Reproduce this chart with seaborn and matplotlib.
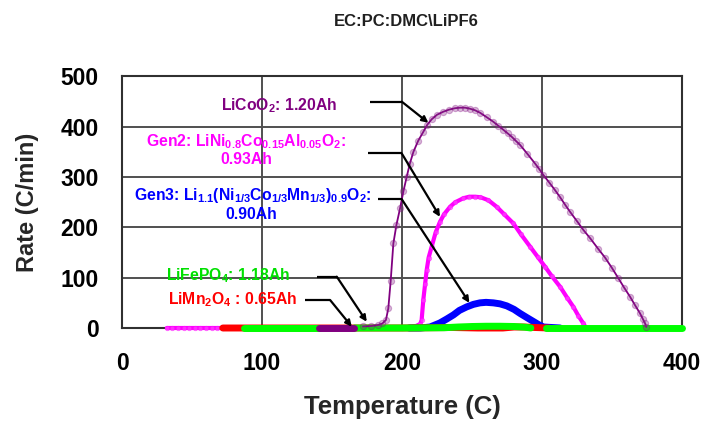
import numpy as np
import pandas as pd
import matplotlib
matplotlib.use("Agg")
import matplotlib.pyplot as plt
import seaborn as sns
from matplotlib.ticker import MultipleLocator

sns.set_style("white")
plt.rcParams['font.family'] = ['Liberation Sans', 'DejaVu Sans']
plt.rcParams['mathtext.fontset'] = 'custom'
plt.rcParams['mathtext.rm'] = 'Liberation Sans:bold'
plt.rcParams['mathtext.it'] = 'Liberation Sans:bold'
plt.rcParams['mathtext.bf'] = 'Liberation Sans:bold'

# ---------------- data ----------------
lco_x = [172, 178, 183, 186, 188.5, 190.2, 191.9, 193.8, 196, 198.6, 201, 203.3, 205.6, 208.1,
         211.5, 215.2, 218, 221.2, 225, 229.5, 233.5, 237.9, 241.5, 245, 248.5, 252, 255.7,
         260.5, 265.2, 268.8, 272.4, 275.4, 278.4, 281.3, 284.3, 289.6, 295, 298, 301, 305.2,
         309.3, 312.9, 316.5, 320, 324.8, 329.5, 334.5, 340.2, 345, 349.8, 354.5, 358.7, 362.9,
         366.5, 370, 372, 373.6, 374.5]
lco_y = [3, 4, 6, 9, 16, 39, 94, 168, 205, 238, 272, 300, 327, 350,
         372, 390, 404, 415, 424, 430, 434, 437, 438, 438, 436, 433, 428,
         419, 410, 402, 394, 387, 380, 372, 364, 346, 327, 316, 304, 289,
         274, 260, 245, 231, 213, 195, 178, 157, 140, 120, 99, 80, 62,
         45, 29, 18, 9, 2]
lco_base_x = [141, 166]
lco_base_y = [0, 0]

gen2_x = [32, 36, 40, 44, 48, 52, 56, 60, 64, 68, 72, 100, 150, 200, 205, 210, 213, 214,
          215.2, 216.5, 217.6, 219, 221.2, 224, 227.1, 230, 234.3, 238, 243.8, 248, 252.1,
          256, 261.7, 267.6, 273, 279.5, 285, 291.4, 297, 302.1, 307, 312.9, 318, 322.4,
          326, 329.5, 331]
gen2_y = [0, 0, 0, 0, 0, 0, 0, 0, 0, 0, 0, 0, 0, 0, 2, 4, 8, 16,
          56, 88, 115, 140, 162, 190, 211, 226, 241, 250, 258, 261, 261,
          260, 254, 241, 226, 208, 186, 162, 141, 122, 103, 82, 60, 42,
          24, 9, 2]

gen3_x = [205, 213, 220, 227, 232, 236.7, 241, 246.2, 251, 255.7, 260, 265.2, 270, 274.8,
          280, 284.3, 289, 293.8, 297.4, 301, 313]
gen3_y = [0, 0, 2, 10, 18, 26, 35, 42, 47, 50, 51, 50, 48, 44,
          37, 29, 21, 13, 7, 2, 0]

lfp_x = [87, 141, 166, 200, 230, 240, 250, 260, 270, 280, 288, 292, 303, 400]
lfp_y = [0, 0, 0, 0, 0.5, 2, 3, 3.5, 3.5, 3, 1.5, 0, 0, 0]
lfp_seg = [0, 0, 1, 1, 1, 1, 1, 1, 1, 1, 1, 1, 2, 2]

lmo_x = [72, 87, 150, 200, 236, 254, 272, 280, 287, 295, 305]
lmo_y = [0, 0, 0, 0, 1, 0, 0, 2, 2, 1, 0]

x_ticks = [0, 100, 200, 300, 400]
y_ticks = [0, 100, 200, 300, 400, 500]

# annotation arrows: (start, elbow, tip)
arrows = [
    ((177.1, 450), (199.8, 450), (218.8, 408)),
    ((175.7, 347), (199.8, 347), (227.1, 221)),
    ((182.9, 256), (199.8, 256), (248.1, 50)),
    ((139.1, 102), (153.4, 102), (174.8, 12.5)),
    ((130.7, 55.7), (148.6, 55.7), (164.1, 2.6)),
]

PURPLE = '#800080'
MAGENTA = '#FF00FF'
BLUE = '#0000FF'
GREEN = '#00FF00'
RED = '#FF0000'

# ---------------- figure ----------------
fig = plt.figure(figsize=(7.07, 4.21), dpi=100)
ax = fig.add_axes([0.1726, 0.2209, 0.7921, 0.5974])

sns.lineplot(x=gen2_x, y=gen2_y, ax=ax, color=MAGENTA, lw=3, sort=False, estimator=None,
             marker='o', markersize=3.2, markerfacecolor=(1, 0.3, 1, 0.6),
             markeredgecolor=(1, 0, 1, 0.5), markeredgewidth=0.6, zorder=3, clip_on=False)
sns.lineplot(x=gen3_x, y=gen3_y, ax=ax, color=BLUE, lw=5, sort=False, estimator=None,
             zorder=4, clip_on=False)
sns.lineplot(x=lmo_x, y=lmo_y, ax=ax, color=RED, lw=5, sort=False, estimator=None,
             zorder=4, clip_on=False)
lfp = pd.DataFrame({'x': lfp_x, 'y': lfp_y, 'seg': lfp_seg})
sns.lineplot(data=lfp, x='x', y='y', units='seg', estimator=None, ax=ax, color=GREEN, lw=5,
             sort=False, zorder=5, clip_on=False)
sns.lineplot(x=lco_base_x, y=lco_base_y, ax=ax, color=PURPLE, lw=5, sort=False,
             estimator=None, zorder=6, clip_on=False)
sns.lineplot(x=lco_x, y=lco_y, ax=ax, color=PURPLE, lw=1.3, sort=False, estimator=None,
             marker='o', markersize=4.5, markerfacecolor=(0.55, 0.2, 0.55, 0.35),
             markeredgecolor=(0.5, 0, 0.5, 0.3), markeredgewidth=0.8, zorder=6, clip_on=False)

for (s, e, t) in arrows:
    ax.plot([s[0], e[0]], [s[1], e[1]], color='black', lw=1.6, zorder=7, solid_capstyle='butt')
    ax.annotate('', xy=t, xytext=e,
                arrowprops=dict(arrowstyle='-|>', color='black', lw=1.6,
                                mutation_scale=9, shrinkA=0, shrinkB=0), zorder=7)

tfs = 11.3
ax.text(112.1, 443, r'LiCoO$_2$: 1.20Ah', color=PURPLE, fontsize=tfs, fontweight='bold',
        ha='center', va='center', zorder=8)
ax.text(88.4, 370, r'Gen2: LiNi$_{0.8}$Co$_{0.15}$Al$_{0.05}$O$_2$:', color=MAGENTA,
        fontsize=tfs, fontweight='bold', ha='center', va='center', zorder=8)
ax.text(89, 334, '0.93Ah', color=MAGENTA, fontsize=tfs, fontweight='bold',
        ha='center', va='center', zorder=8)
ax.text(93.2, 264, r'Gen3: Li$_{1.1}$(Ni$_{1/3}$Co$_{1/3}$Mn$_{1/3}$)$_{0.9}$O$_2$:',
        color=BLUE, fontsize=tfs, fontweight='bold', ha='center', va='center', zorder=8)
ax.text(92.6, 225, '0.90Ah', color=BLUE, fontsize=tfs, fontweight='bold',
        ha='center', va='center', zorder=8)
ax.text(75.4, 105, r'LiFePO$_4$: 1.18Ah', color='#00E000', fontsize=tfs, fontweight='bold',
        ha='center', va='center', zorder=8)
ax.text(78.9, 57, r'LiMn$_2$O$_4$ : 0.65Ah', color=RED, fontsize=tfs, fontweight='bold',
        ha='center', va='center', zorder=8)

ax.set_xlim(0, 400)
ax.set_ylim(0, 500)
ax.set_xticks(x_ticks)
ax.set_yticks(y_ticks)
ax.set_xticklabels([str(v) for v in x_ticks])
ax.set_yticklabels([str(v) for v in y_ticks])
ax.xaxis.set_minor_locator(MultipleLocator(20))
ax.yaxis.set_minor_locator(MultipleLocator(20))
ax.tick_params(axis='both', which='major', direction='in', length=5, width=1.2,
               labelsize=16.5, pad=17, colors='black')
ax.tick_params(axis='both', which='minor', direction='in', length=4, width=1.2)
for lab in ax.get_xticklabels() + ax.get_yticklabels():
    lab.set_fontweight('bold')

ax.grid(True, which='major', color='#505050', lw=1.4)
ax.set_axisbelow(True)
for sp in ax.spines.values():
    sp.set_visible(True)
    sp.set_color('#303030')
    sp.set_linewidth(1.5)

xl = ax.set_xlabel('Temperature (C)', fontsize=18.5, fontweight='bold', va='center')
ax.xaxis.set_label_coords(0.5, -0.314)
yl = ax.set_ylabel('Rate (C/min)', fontsize=17, fontweight='bold', va='center')
ax.yaxis.set_label_coords(-0.168, 0.5)

fig.text(0.574, 0.948, r'EC:PC:DMC\LiPF6', fontsize=12, fontweight='bold',
         ha='center', va='center', color='#202020')

fig.savefig('out.png', dpi=100)
